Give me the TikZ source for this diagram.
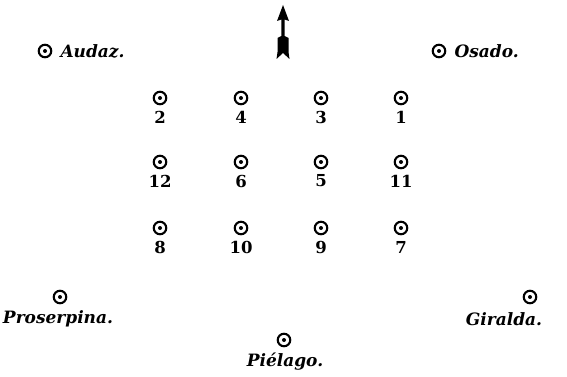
\documentclass[tikz,border=0pt]{standalone}
\usepackage{fontspec}
\setmainfont{DejaVu Serif}
\usetikzlibrary{positioning}
\tikzset{
  ship/.style={circle,draw,line width=2.1pt,minimum size=12.5pt,inner sep=0pt,
    path picture={\fill (path picture bounding box.center) circle (2pt);}},
  shipname/.style={font=\fontsize{17}{19}\selectfont\bfseries\itshape,inner sep=0pt},
  shipnum/.style={font=\fontsize{16.5}{18}\selectfont\bfseries,inner sep=0pt},
}
\begin{document}
\begin{tikzpicture}[x=1pt,y=-1pt]
  \useasboundingbox (0,0) rectangle (567,377);
  % wind arrow
  \coordinate (tail) at (283,59);
  \coordinate (tip) at (283,5);
  \fill (283,5) -- (289,21) -- (284.7,19.5) -- (284.7,36) -- (288.5,38) -- (288.5,52)
    -- (289.5,59) -- (283,53) -- (276.5,59) -- (277.5,52) -- (277.5,38) -- (281.3,36)
    -- (281.3,19.5) -- (277,21) -- cycle;
  % the grid of twelve
  \foreach \n/\x/\y in {2/160/98,4/241/98,3/321/98,1/401/98,
                        12/160/162,6/241/162,5/321/162,11/401/162,
                        8/160/228,10/241/228,9/321/228,7/401/228} {
    \node[ship] (s\n) at (\x,\y) {};
    \node[shipnum] (n\n) at (\x,\y+19) {\n};
  }
  % named ships
  \node[ship] (audaz) at (45,51) {};
  \node[shipname,right=8pt of audaz] (audaz-l) {Audaz.};
  \node[ship] (osado) at (439,51) {};
  \node[shipname,right=8pt of osado] (osado-l) {Osado.};
  \node[ship] (proserpina) at (60,297) {};
  \node[shipname] (proserpina-l) at (58,319) {Proserpina.};
  \node[ship] (giralda) at (530,297) {};
  \node[shipname] (giralda-l) at (504,319) {Giralda.};
  \node[ship] (pielago) at (284,340) {};
  \node[shipname] (pielago-l) at (285,362) {Piélago.};
\end{tikzpicture}
\end{document}
